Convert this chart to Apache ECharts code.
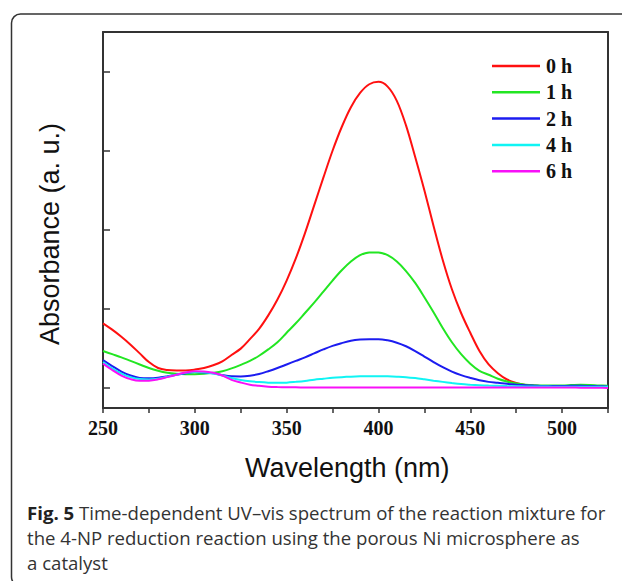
<!DOCTYPE html>
<html>
<head>
<meta charset="utf-8">
<script src="https://cdn.jsdelivr.net/npm/echarts@6/dist/echarts.min.js"></script>
<style>
html,body{margin:0;padding:0;background:#fff;}
#chart{width:622px;height:581px;}
</style>
</head>
<body>
<div id="chart"></div>
<script>
// Wavelength (nm)
const wavelengths = [250,255,260,265,270,275,280,285,290,295,300,305,310,315,320,325,330,335,340,345,350,355,360,365,370,375,380,385,390,395,400,405,410,415,420,425,430,435,440,445,450,455,460,465,470,475,480,485,490,495,500,505,510,515,520,525];
const seriesNames = ['0 h','1 h','2 h','4 h','6 h'];
const abs0h = [0.82,0.74,0.65,0.55,0.44,0.33,0.255,0.23,0.225,0.225, 0.235,0.255,0.29,0.34,0.42,0.50,0.62,0.75,0.92,1.12, 1.36,1.64,1.96,2.31,2.66,3.00,3.30,3.55,3.73,3.84, 3.87,3.81,3.63,3.32,2.92,2.50,2.05,1.62,1.25,0.95, 0.70,0.47,0.30,0.19,0.11,0.065,0.04,0.03,0.025,0.025, 0.025,0.03,0.035,0.03,0.025,0.02];
const abs1h = [0.47,0.43,0.39,0.345,0.30,0.255,0.22,0.195,0.182,0.177, 0.177,0.182,0.195,0.215,0.25,0.295,0.345,0.41,0.49,0.58, 0.70,0.82,0.95,1.08,1.22,1.36,1.49,1.60,1.68,1.715, 1.715,1.68,1.60,1.48,1.33,1.15,0.96,0.76,0.58,0.43, 0.31,0.22,0.17,0.12,0.085,0.06,0.045,0.037,0.033,0.033, 0.035,0.04,0.045,0.042,0.035,0.03];
const abs2h = [0.355,0.28,0.21,0.16,0.13,0.125,0.132,0.15,0.17,0.19, 0.205,0.20,0.188,0.165,0.15,0.148,0.158,0.18,0.215,0.255, 0.30,0.345,0.39,0.44,0.49,0.535,0.57,0.60,0.615,0.62, 0.62,0.605,0.575,0.53,0.47,0.40,0.33,0.265,0.21,0.165, 0.13,0.10,0.08,0.068,0.055,0.045,0.037,0.032,0.028,0.028, 0.028,0.03,0.03,0.028,0.025,0.022];
const abs4h = [0.33,0.25,0.185,0.14,0.115,0.11,0.12,0.145,0.17,0.195, 0.206,0.20,0.185,0.16,0.128,0.105,0.088,0.077,0.07,0.068, 0.07,0.08,0.092,0.108,0.12,0.132,0.14,0.146,0.15,0.152, 0.152,0.15,0.146,0.14,0.128,0.112,0.095,0.08,0.065,0.052, 0.044,0.038,0.033,0.03,0.027,0.025,0.023,0.022,0.021,0.02, 0.02,0.02,0.02,0.019,0.018,0.017];
const abs6h = [0.31,0.23,0.16,0.115,0.093,0.095,0.112,0.14,0.17,0.198, 0.214,0.212,0.195,0.16,0.105,0.072,0.045,0.03,0.02,0.015, 0.012,0.011,0.01,0.01,0.01,0.01,0.01,0.01,0.01,0.01, 0.01,0.01,0.01,0.01,0.01,0.01,0.01,0.01,0.01,0.01, 0.01,0.01,0.01,0.01,0.01,0.01,0.01,0.01,0.01,0.01, 0.009,0.008,0.007,0.006,0.005,0.004];
const seriesValues = [abs0h, abs1h, abs2h, abs4h, abs6h];
const seriesColors = ['#ff1010','#22e622','#1c1cf0','#10f4f4','#f810f8'];
const xTickLabels = [250,300,350,400,450,500];
const yTickValues = [0,1,2,3,4];

const chart = echarts.init(document.getElementById('chart'), null, {renderer:'svg'});
const frame = {show:true, onZero:false, lineStyle:{color:'#333', width:2}};
const series = seriesNames.map((name, i) => ({
  name: name,
  type: 'line',
  data: wavelengths.map((w, j) => [w, seriesValues[i][j]]),
  smooth: 0.35,
  symbol: 'none',
  lineStyle: {color: seriesColors[i], width: 2},
  itemStyle: {color: seriesColors[i]},
  z: 2 + i
}));

chart.setOption({
  animation: false,
  backgroundColor: '#fff',
  grid: {left: 103, top: 32, width: 505, height: 376},
  xAxis: [{
    type: 'value', min: 250, max: 525, interval: 25, position: 'bottom',
    axisLine: frame,
    axisTick: {show: true, inside: false, length: 5, lineStyle: {color: '#333', width: 1.5}},
    axisLabel: {
      show: true, margin: 10, showMinLabel: true,
      formatter: v => (xTickLabels.indexOf(v) >= 0 ? String(v) : ''),
      fontFamily: 'Liberation Serif', fontWeight: 'bold', fontSize: 20, color: '#111'
    },
    splitLine: {show: false}
  }, {
    type: 'value', min: 250, max: 525, position: 'top',
    axisLine: frame, axisTick: {show: false}, axisLabel: {show: false}, splitLine: {show: false}
  }],
  yAxis: [{
    type: 'value', min: -0.25, max: 4.5, position: 'left',
    axisLine: frame,
    axisTick: {show: true, inside: true, length: 7, customValues: yTickValues, lineStyle: {color: '#333', width: 1.5}},
    axisLabel: {show: false},
    splitLine: {show: false}
  }, {
    type: 'value', min: -0.25, max: 4.5, position: 'right',
    axisLine: frame, axisTick: {show: false}, axisLabel: {show: false}, splitLine: {show: false}
  }],
  legend: {
    orient: 'vertical', left: 492, top: 56, padding: 0,
    icon: 'rect', itemWidth: 48, itemHeight: 2.5, itemGap: 6.3,
    data: seriesNames,
    textStyle: {fontFamily: 'Liberation Serif', fontWeight: 'bold', fontSize: 20, lineHeight: 20, color: '#111', padding: [0, 0, 0, 1]}
  },
  series: series,
  graphic: [
    {type: 'rect', silent: true, z: 100,
     shape: {x: 11.5, y: 14, width: 700, height: 572, r: 9},
     style: {fill: 'none', stroke: '#333', lineWidth: 1.5}},
    {type: 'text', silent: true, x: 50, y: 234, rotation: Math.PI / 2,
     style: {text: 'Absorbance (a. u.)', font: '27px "Liberation Sans", Arial, sans-serif', fill: '#111', textAlign: 'center', textVerticalAlign: 'middle'}},
    {type: 'text', silent: true, x: 245, y: 468,
     style: {text: 'Wavelength (nm)', font: '27px "Liberation Sans", Arial, sans-serif', fill: '#111', textAlign: 'left', textVerticalAlign: 'middle'}},
    {type: 'text', silent: true, x: 27, y: 512,
     style: {text: '{b|Fig. 5} Time-dependent UV–vis spectrum of the reaction mixture for',
       font: '18.6px "Open Sans", sans-serif', fill: '#333', textAlign: 'left', textVerticalAlign: 'middle',
       rich: {b: {font: 'bold 18.6px "Open Sans", sans-serif', fill: '#222'}}}},
    {type: 'text', silent: true, x: 27, y: 537,
     style: {text: 'the 4-NP reduction reaction using the porous Ni microsphere as',
       font: '18.6px "Open Sans", sans-serif', fill: '#333', textAlign: 'left', textVerticalAlign: 'middle'}},
    {type: 'text', silent: true, x: 27, y: 562,
     style: {text: 'a catalyst',
       font: '18.6px "Open Sans", sans-serif', fill: '#333', textAlign: 'left', textVerticalAlign: 'middle'}}
  ]
});
</script>
</body>
</html>
